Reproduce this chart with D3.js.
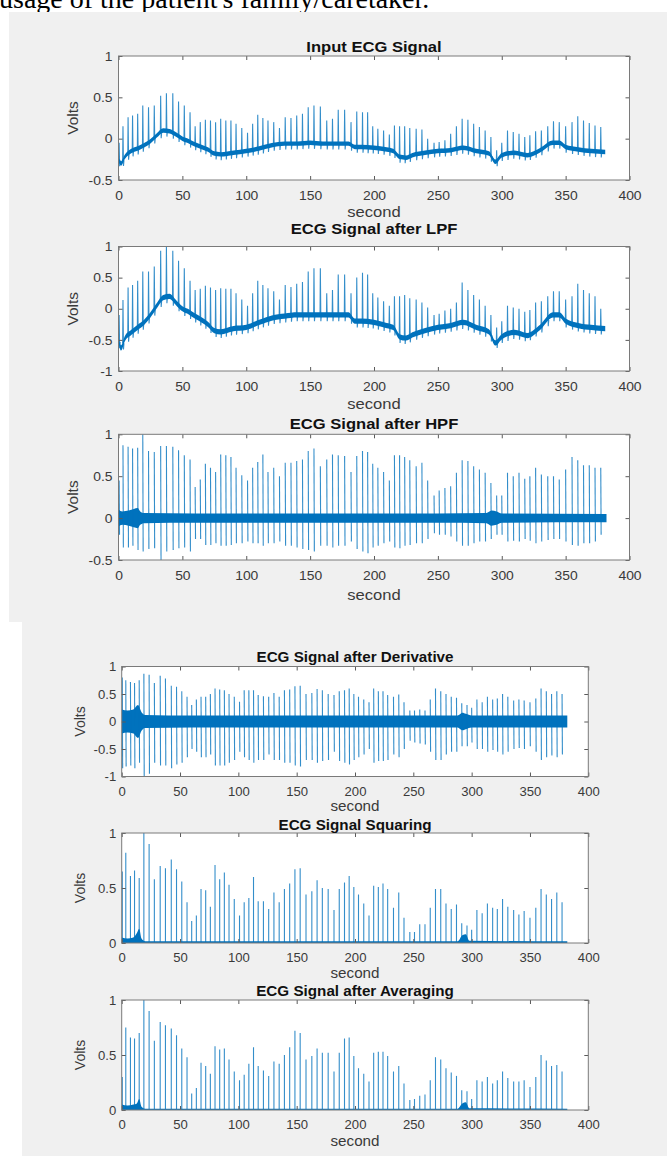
<!DOCTYPE html>
<html>
<head>
<meta charset="utf-8">
<script src="https://cdn.jsdelivr.net/npm/d3@7"></script>
<style>
  html, body { margin: 0; padding: 0; background: #fff; }
  svg { display: block; }
  text { font-family: "Liberation Sans", Arial, Helvetica, sans-serif; }
</style>
</head>
<body>
<svg id="fig" width="667" height="1156"></svg>
<script>
// ---- data ----
const xTicks = [0, 50, 100, 150, 200, 250, 300, 350, 400];

// R-peak times (s), shared by every trace
const beatT = [0.5, 3.5, 7.5, 11, 15, 19, 23.5, 28, 33, 37.5, 42.5, 47, 51.5, 56, 60, 64, 68, 72, 76, 80,
  84, 88, 92, 96.5, 101, 105, 109, 113, 117, 121.5, 126, 130.5, 135, 139.5, 144, 148.5, 153, 158, 163, 167.5,
  172, 177, 182, 186.5, 191, 195, 199, 203, 207.5, 212, 216, 220, 224, 228, 233, 237.5, 242, 247, 251, 255.5,
  260, 264.5, 269, 273.5, 278, 282.5, 287, 291.5, 296, 300, 304.5, 309, 313.5, 318, 322, 326.5, 331, 336, 340.5, 345,
  350, 355, 359.5, 364, 368.5, 373, 377.5];

// baseline wander knots for the raw and low-passed signals
const wanderT = [0, 2, 5, 10, 15, 20, 25, 30, 35, 40, 45, 50, 55, 60, 65, 70, 75, 80, 90, 100,
  110, 120, 130, 140, 150, 160, 170, 180, 185, 190, 200, 210, 215, 220, 225, 230, 240, 250, 260, 270,
  280, 290, 295, 300, 310, 320, 330, 340, 345, 350, 360, 370, 381];
const inputBase = [-0.25, -0.3, -0.22, -0.15, -0.12, -0.08, -0.03, 0.04, 0.1, 0.09, 0.05, 0, -0.03, -0.07, -0.1, -0.13, -0.18, -0.19, -0.17, -0.15,
  -0.12, -0.08, -0.06, -0.06, -0.05, -0.06, -0.06, -0.06, -0.1, -0.1, -0.11, -0.13, -0.15, -0.22, -0.23, -0.2, -0.17, -0.15, -0.14, -0.11,
  -0.15, -0.18, -0.28, -0.2, -0.17, -0.2, -0.14, -0.05, -0.05, -0.1, -0.13, -0.15, -0.16];
const lpfBase = [-0.5, -0.63, -0.48, -0.38, -0.3, -0.22, -0.1, 0.05, 0.18, 0.2, 0.1, 0, -0.05, -0.12, -0.18, -0.25, -0.35, -0.37, -0.32, -0.3,
  -0.22, -0.15, -0.12, -0.1, -0.1, -0.1, -0.1, -0.1, -0.2, -0.2, -0.22, -0.27, -0.3, -0.45, -0.47, -0.42, -0.35, -0.3, -0.27, -0.22,
  -0.3, -0.37, -0.55, -0.45, -0.38, -0.43, -0.3, -0.1, -0.1, -0.2, -0.27, -0.3, -0.32];

const inputPeak = [-0.05, 0.15, 0.26, 0.28, 0.3, 0.4, 0.38, 0.4, 0.52, 0.55, 0.55, 0.45, 0.4, 0.32, 0.15, 0.2, 0.23, 0.22, 0.2, 0.24,
  0.22, 0.22, 0.18, 0.13, 0.07, 0.18, 0.29, 0.25, 0.22, 0.2, 0.13, 0.26, 0.25, 0.28, 0.3, 0.38, 0.4, 0.39, 0.22, 0.24,
  0.35, 0.35, 0.2, 0.33, 0.32, 0.32, 0.15, 0.12, 0.1, 0.05, 0.16, 0.15, 0.15, 0.13, 0.12, 0.11, 0, -0.05, -0.04, -0.02,
  0.06, 0.15, 0.24, 0.23, 0.18, 0.14, 0.1, 0.02, -0.14, -0.05, 0.1, 0.08, 0.06, 0.02, 0.04, 0.09, 0.1, 0.15, 0.21, 0.2,
  0.15, 0.2, 0.27, 0.22, 0.19, 0.16, 0.14];
const lpfPeak = [-0.1, 0.14, 0.34, 0.38, 0.45, 0.6, 0.6, 0.68, 0.93, 1.0, 0.93, 0.77, 0.65, 0.45, 0.3, 0.32, 0.37, 0.34, 0.3, 0.33,
  0.32, 0.32, 0.25, 0.15, 0.05, 0.25, 0.45, 0.38, 0.33, 0.28, 0.15, 0.38, 0.35, 0.4, 0.43, 0.6, 0.65, 0.65, 0.25, 0.3,
  0.55, 0.55, 0.25, 0.5, 0.58, 0.55, 0.25, 0.18, 0.12, 0.05, 0.2, 0.2, 0.22, 0.17, 0.15, 0.1, 0.02, -0.1, -0.08, -0.03,
  0, 0.1, 0.42, 0.3, 0.22, 0.15, 0.05, -0.1, -0.3, -0.2, 0.05, 0.02, 0, -0.05, -0.02, 0.1, 0.12, 0.2, 0.28, 0.28,
  0.15, 0.2, 0.4, 0.3, 0.25, 0.2, 0];

const hpfPeak = [0.45, 0.87, 0.85, 0.83, 0.84, 1.0, 0.8, 0.79, 0.86, 0.86, 0.85, 0.81, 0.75, 0.7, 0.37, 0.46, 0.65, 0.6, 0.55, 0.76,
  0.75, 0.73, 0.6, 0.51, 0.45, 0.6, 0.67, 0.76, 0.55, 0.6, 0.5, 0.66, 0.66, 0.68, 0.7, 0.8, 0.83, 0.62, 0.7, 0.76,
  0.75, 0.74, 0.55, 0.74, 0.8, 0.79, 0.65, 0.6, 0.55, 0.45, 0.75, 0.75, 0.73, 0.69, 0.62, 0.66, 0.45, 0.27, 0.33, 0.36,
  0.38, 0.54, 0.69, 0.68, 0.62, 0.58, 0.54, 0.42, 0.27, 0.27, 0.54, 0.5, 0.54, 0.47, 0.5, 0.6, 0.52, 0.5, 0.5, 0.46,
  0.58, 0.73, 0.69, 0.63, 0.63, 0.6, 0.6];
const hpfTrough = [-0.2, -0.35, -0.35, -0.33, -0.38, -0.4, -0.37, -0.36, -0.5, -0.4, -0.38, -0.36, -0.35, -0.4, -0.25, -0.25, -0.32, -0.32, -0.3, -0.33,
  -0.33, -0.32, -0.3, -0.3, -0.28, -0.3, -0.3, -0.33, -0.3, -0.3, -0.28, -0.33, -0.33, -0.35, -0.37, -0.38, -0.4, -0.33, -0.33, -0.35,
  -0.33, -0.33, -0.28, -0.37, -0.4, -0.42, -0.35, -0.33, -0.3, -0.28, -0.35, -0.36, -0.33, -0.32, -0.3, -0.3, -0.25, -0.18, -0.2, -0.2,
  -0.22, -0.28, -0.33, -0.33, -0.3, -0.28, -0.28, -0.25, -0.2, -0.2, -0.28, -0.27, -0.28, -0.25, -0.27, -0.3, -0.28, -0.26, -0.25, -0.25,
  -0.28, -0.32, -0.33, -0.3, -0.3, -0.28, -0.2];
const hpfBandT = [0, 3, 8, 12, 15, 17, 20, 60, 120, 250, 288, 292, 296, 300, 382];
const hpfBandW = [0.1, 0.08, 0.09, 0.11, 0.12, 0.08, 0.06, 0.055, 0.055, 0.055, 0.06, 0.09, 0.08, 0.055, 0.05];

const derivPeak = [0.8, 0.75, 0.72, 0.7, 0.75, 0.87, 0.85, 0.7, 0.83, 0.78, 0.65, 0.63, 0.55, 0.45, 0.3, 0.4, 0.45, 0.45, 0.5, 0.6,
  0.58, 0.57, 0.5, 0.45, 0.36, 0.57, 0.57, 0.57, 0.48, 0.46, 0.45, 0.52, 0.45, 0.57, 0.58, 0.64, 0.65, 0.5, 0.52, 0.59,
  0.57, 0.5, 0.48, 0.55, 0.57, 0.6, 0.5, 0.45, 0.4, 0.35, 0.6, 0.55, 0.55, 0.48, 0.45, 0.49, 0.35, 0.2, 0.2, 0.22,
  0.2, 0.4, 0.6, 0.55, 0.5, 0.45, 0.43, 0.33, 0.3, 0.25, 0.4, 0.35, 0.45, 0.4, 0.42, 0.5, 0.45, 0.38, 0.4, 0.38,
  0.35, 0.42, 0.6, 0.55, 0.5, 0.55, 0.5];
const derivTrough = [-0.85, -0.82, -0.8, -0.85, -0.75, -1.0, -0.95, -0.75, -0.8, -0.8, -0.85, -0.78, -0.75, -0.65, -0.5, -0.55, -0.65, -0.65, -0.6, -0.8,
  -0.8, -0.8, -0.75, -0.7, -0.55, -0.65, -0.7, -0.75, -0.7, -0.7, -0.6, -0.7, -0.7, -0.75, -0.75, -0.8, -0.82, -0.7, -0.7, -0.75,
  -0.72, -0.7, -0.55, -0.72, -0.75, -0.78, -0.7, -0.65, -0.6, -0.5, -0.75, -0.72, -0.72, -0.7, -0.6, -0.65, -0.5, -0.35, -0.38, -0.4,
  -0.42, -0.55, -0.7, -0.7, -0.6, -0.55, -0.55, -0.45, -0.45, -0.38, -0.5, -0.5, -0.55, -0.52, -0.55, -0.6, -0.55, -0.5, -0.48, -0.5,
  -0.45, -0.55, -0.7, -0.65, -0.62, -0.65, -0.6];
const derivBandT = [0, 5, 10, 14, 17, 20, 60, 288, 292, 295, 300, 382];
const derivBandW = [0.22, 0.2, 0.22, 0.3, 0.17, 0.12, 0.11, 0.11, 0.16, 0.14, 0.11, 0.11];

const sqPeak = [0.65, 0.82, 0.61, 0.66, 0.59, 1.0, 0.9, 0.58, 0.7, 0.68, 0.76, 0.67, 0.56, 0.37, 0.2, 0.25, 0.49, 0.48, 0.33, 0.71,
  0.58, 0.64, 0.53, 0.4, 0.25, 0.37, 0.41, 0.6, 0.38, 0.38, 0.31, 0.46, 0.37, 0.49, 0.54, 0.67, 0.68, 0.44, 0.47, 0.57,
  0.5, 0.49, 0.3, 0.49, 0.55, 0.61, 0.51, 0.44, 0.36, 0.25, 0.52, 0.51, 0.54, 0.49, 0.32, 0.46, 0.23, 0.1, 0.1, 0.17,
  0.17, 0.32, 0.49, 0.49, 0.36, 0.31, 0.35, 0.18, 0.16, 0.12, 0.3, 0.27, 0.36, 0.32, 0.31, 0.4, 0.33, 0.3, 0.26, 0.29,
  0.23, 0.32, 0.49, 0.44, 0.4, 0.46, 0.37];
const avgPeak = [0.3, 0.75, 0.66, 0.65, 0.7, 1.0, 0.9, 0.63, 0.8, 0.77, 0.74, 0.68, 0.56, 0.48, 0.15, 0.2, 0.43, 0.4, 0.33, 0.58,
  0.55, 0.56, 0.46, 0.35, 0.27, 0.32, 0.42, 0.57, 0.4, 0.36, 0.31, 0.44, 0.42, 0.5, 0.57, 0.72, 0.7, 0.46, 0.49, 0.56,
  0.52, 0.52, 0.35, 0.52, 0.65, 0.66, 0.49, 0.38, 0.33, 0.26, 0.52, 0.53, 0.53, 0.49, 0.35, 0.4, 0.24, 0.09, 0.1, 0.13,
  0.14, 0.27, 0.48, 0.46, 0.38, 0.34, 0.31, 0.18, 0.17, 0.1, 0.27, 0.26, 0.3, 0.24, 0.27, 0.35, 0.29, 0.26, 0.26, 0.27,
  0.21, 0.3, 0.5, 0.45, 0.4, 0.41, 0.35];
const energyBandT = [0, 5, 10, 13, 15, 17, 20, 288, 292, 295, 298, 382];
const sqBandW = [0.05, 0.04, 0.05, 0.09, 0.13, 0.04, 0.015, 0.015, 0.07, 0.08, 0.02, 0.015];
const avgBandW = [0.05, 0.04, 0.05, 0.06, 0.1, 0.03, 0.012, 0.012, 0.06, 0.07, 0.015, 0.012];

// attr-object helper (camelCase keys -> dashed attribute names)
d3.selection.prototype.at = function(obj) {
  Object.keys(obj).forEach(k => this.attr(k.replace(/[A-Z]/g, c => "-" + c.toLowerCase()), obj[k]));
  return this;
};

// ---- layout ----
const blue = "#0072BD";
const svg = d3.select("#fig");

svg.append("text")
  .at({ x: -1, y: 7.5, fill: "#000" })
  .style("font-family", "'Liberation Serif', 'Times New Roman', serif")
  .style("font-size", "28px")
  .text("usage of the patient's family/caretaker.");

svg.append("rect").at({ x: 9, y: 12, width: 658, height: 610, fill: "#f0f0f0" });
svg.append("rect").at({ x: 22, y: 620, width: 645, height: 536, fill: "#f0f0f0" });

// the screenshot is slightly stretched sideways, so text gets an sx factor
const panelA = { left: 118.5, right: 629.5, tick: 13, lab: 15.5, title: 15.5, volts: 15.5, sx: 1.07, voltsX: 72.5, yPad: 6 };
const panelB = { left: 121.7, right: 588.3, tick: 12.5, lab: 14.5, title: 14.5, volts: 14, sx: 1.05, voltsX: 80.3, yPad: 5.5 };

const plots = [
  { id: "p1", frame: panelA, top: 56, bottom: 180, yDomain: [-0.5, 1], yTicks: [-0.5, 0, 0.5, 1],
    title: "Input ECG Signal", titleY: 46, xlabY: 211.5, kind: "ecg",
    baseV: inputBase, peak: inputPeak, dip: 0.07, half: 0.027 },
  { id: "p2", frame: panelA, top: 246.5, bottom: 371, yDomain: [-1, 1], yTicks: [-1, -0.5, 0, 0.5, 1],
    title: "ECG Signal after LPF", titleY: 228, xlabY: 403, kind: "ecg",
    baseV: lpfBase, peak: lpfPeak, dip: 0.1, half: 0.042 },
  { id: "p3", frame: panelA, top: 434.3, bottom: 560, yDomain: [-0.5, 1], yTicks: [-0.5, 0, 0.5, 1],
    title: "ECG Signal after HPF", titleY: 423.8, xlabY: 594, kind: "bipolar",
    peak: hpfPeak, trough: hpfTrough, bandT: hpfBandT, bandW: hpfBandW },
  { id: "p4", frame: panelB, top: 666.5, bottom: 776.5, yDomain: [-1, 1], yTicks: [-1, -0.5, 0, 0.5, 1],
    title: "ECG Signal after Derivative", titleY: 656.7, xlabY: 805.7, kind: "bipolar",
    peak: derivPeak, trough: derivTrough, bandT: derivBandT, bandW: derivBandW },
  { id: "p5", frame: panelB, top: 833, bottom: 943, yDomain: [0, 1], yTicks: [0, 0.5, 1],
    title: "ECG Signal Squaring", titleY: 824.5, xlabY: 972.8, kind: "energy",
    peak: sqPeak, bandT: energyBandT, bandW: sqBandW },
  { id: "p6", frame: panelB, top: 1000, bottom: 1110, yDomain: [0, 1], yTicks: [0, 0.5, 1],
    title: "ECG Signal after Averaging", titleY: 991, xlabY: 1140.7, kind: "energy",
    peak: avgPeak, bandT: energyBandT, bandW: avgBandW }
];

plots.forEach(drawPlot);

function drawPlot(p) {
  const f = p.frame;
  const x = d3.scaleLinear().domain([0, 400]).range([f.left, f.right]);
  const y = d3.scaleLinear().domain(p.yDomain).range([p.bottom, p.top]);
  const w = f.right - f.left, h = p.bottom - p.top;
  const g = svg.append("g");

  g.append("rect").at({ x: f.left, y: p.top, width: w, height: h, fill: "#fff" });
  svg.append("clipPath").attr("id", "clip-" + p.id)
    .append("rect").at({ x: f.left, y: p.top, width: w, height: h });
  const plot = g.append("g").attr("clip-path", `url(#clip-${p.id})`);

  const beats = beatT.map((t, i) => ({ t, i }));
  const spikeStyle = { fill: "none", stroke: blue, strokeWidth: 1.1, strokeOpacity: 0.8 };

  if (p.kind === "ecg") {
    // baseline wander as a thick noisy band, R spikes rising from it
    const base = d3.scaleLinear().domain(wanderT).range(p.baseV);
    const knots = wanderT.map((t, i) => ({ t, v: p.baseV[i] }));
    plot.append("path").datum(knots)
      .attr("fill", blue)
      .attr("d", d3.area().curve(d3.curveMonotoneX)
        .x(d => x(d.t)).y0(d => y(d.v - p.half)).y1(d => y(d.v + p.half)));
    plot.append("g").selectAll("path").data(beats).join("path")
      .at(spikeStyle)
      .attr("d", d => {
        const b = base(d.t);
        return d3.line()([[x(d.t) - 0.3, y(b)], [x(d.t), y(p.peak[d.i])],
          [x(d.t + 0.4), y(b - p.dip)], [x(d.t + 0.8), y(b)]]);
      });
  } else {
    const band = p.bandT.map((t, i) => ({ t, w: p.bandW[i] }));
    const sym = p.kind === "bipolar";
    plot.append("path").datum(band)
      .attr("fill", blue)
      .attr("d", d3.area().curve(d3.curveMonotoneX)
        .x(d => x(d.t)).y0(d => y(sym ? -d.w : 0)).y1(d => y(d.w)));
    plot.append("g").selectAll("path").data(beats).join("path")
      .at(spikeStyle)
      .attr("d", d => sym
        ? d3.line()([[x(d.t), y(p.peak[d.i])], [x(d.t + 0.3), y(p.trough[d.i])]])
        : d3.line()([[x(d.t), y(0)], [x(d.t), y(p.peak[d.i])]]));
  }

  // axes, ticks pointing inwards on all four sides
  const styleAxis = sel => {
    sel.select(".domain").remove();
    sel.selectAll("line").attr("stroke", "#5a5a5a");
    sel.attr("font-family", null).attr("font-size", null);
    sel.selectAll("text").attr("fill", "#3a3a3a").style("font-size", f.tick + "px")
      .attr("transform", `scale(${f.sx},1)`);
  };
  g.append("g").attr("transform", `translate(0,${p.bottom})`)
    .call(d3.axisBottom(x).tickValues(xTicks).tickSize(-4).tickPadding(10.5).tickFormat(d3.format("d")))
    .call(styleAxis);
  g.append("g").attr("transform", `translate(0,${p.top})`)
    .call(d3.axisTop(x).tickValues(xTicks).tickSize(-4).tickFormat(""))
    .call(styleAxis);
  g.append("g").attr("transform", `translate(${f.left},0)`)
    .call(d3.axisLeft(y).tickValues(p.yTicks).tickSize(-4).tickPadding(f.yPad / f.sx).tickFormat(d => String(d)))
    .call(styleAxis);
  g.append("g").attr("transform", `translate(${f.right},0)`)
    .call(d3.axisRight(y).tickValues(p.yTicks).tickSize(-4).tickFormat(""))
    .call(styleAxis);

  g.append("rect").at({ x: f.left, y: p.top, width: w, height: h, fill: "none", stroke: "#7a7a7a", strokeWidth: 1 });

  const cx = (f.left + f.right) / 2;
  g.append("text")
    .attr("transform", `translate(${cx},${p.titleY + f.title * 0.36}) scale(${f.sx},1)`)
    .at({ textAnchor: "middle", fill: "#111" })
    .style("font-size", f.title + "px").style("font-weight", "bold").text(p.title);
  g.append("text")
    .attr("transform", `translate(${cx},${p.xlabY + f.lab * 0.36}) scale(${f.sx},1)`)
    .at({ textAnchor: "middle", fill: "#3a3a3a" })
    .style("font-size", f.lab + "px").text("second");
  g.append("text")
    .attr("transform", `translate(${f.voltsX + f.volts * 0.36},${(p.top + p.bottom) / 2}) rotate(-90)`)
    .at({ textAnchor: "middle", fill: "#3a3a3a" })
    .style("font-size", f.volts + "px").text("Volts");
}
</script>
</body>
</html>
